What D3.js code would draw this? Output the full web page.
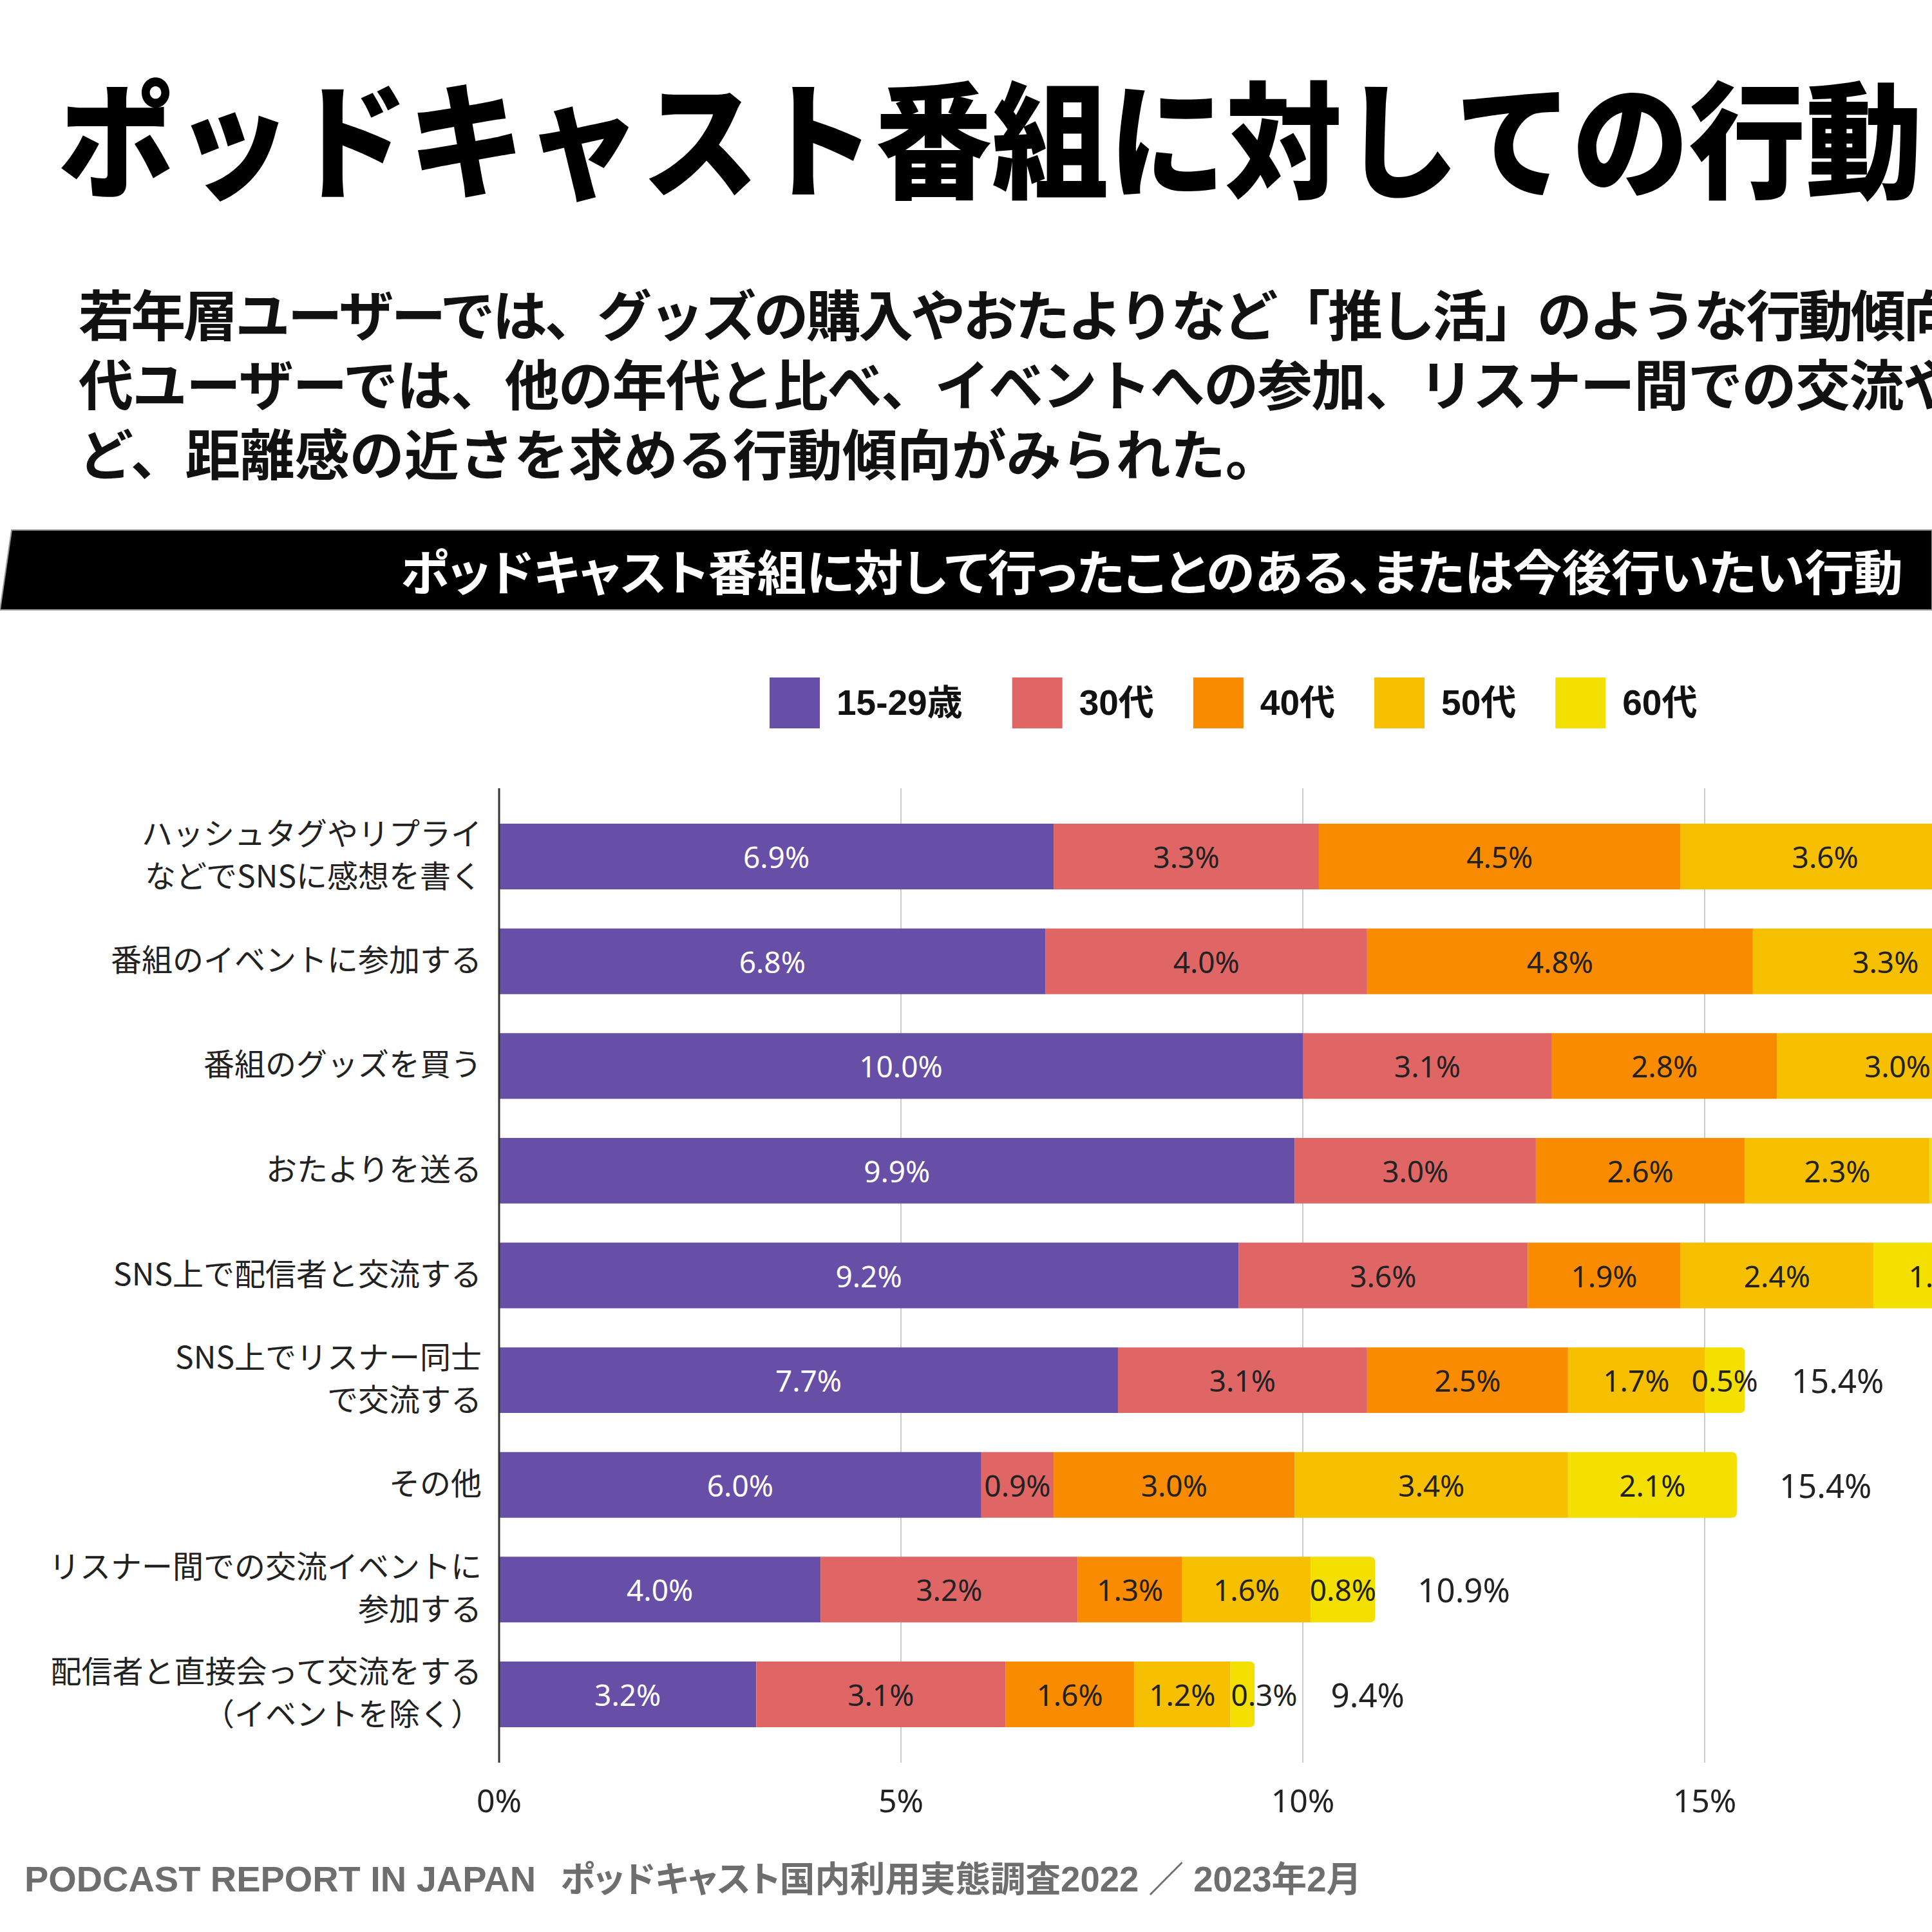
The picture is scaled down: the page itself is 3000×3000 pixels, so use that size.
<!DOCTYPE html>
<html>
<head>
<meta charset="utf-8">
<script src="https://cdn.jsdelivr.net/npm/d3@7/dist/d3.min.js"></script>
<style>
  html, body { margin: 0; padding: 0; background: #fff; }
  svg { display: block; }
  .palt { font-feature-settings: "palt"; }
</style>
</head>
<body>
<script>
// ---------- DATA ----------
const title = "ポッドキャスト番組に対しての行動";
const subtitleLines = [
  "若年層ユーザーでは、グッズの購入やおたよりなど「推し活」のような行動傾向",
  "代ユーザーでは、他の年代と比べ、イベントへの参加、リスナー間での交流や",
  "ど、距離感の近さを求める行動傾向がみられた。"
];
const bannerText = "ポッドキャスト番組に対して行ったことのある、または今後行いたい行動";
const footerLatin = "PODCAST REPORT IN JAPAN";
const footerJa = "ポッドキャスト国内利用実態調査2022 ／ 2023年2月";

const categories = [
  ["ハッシュタグやリプライ", "などでSNSに感想を書く"],
  ["番組のイベントに参加する"],
  ["番組のグッズを買う"],
  ["おたよりを送る"],
  ["SNS上で配信者と交流する"],
  ["SNS上でリスナー同士", "で交流する"],
  ["その他"],
  ["リスナー間での交流イベントに", "参加する"],
  ["配信者と直接会って交流をする", "（イベントを除く）"]
];
const seriesNames = ["15-29歳", "30代", "40代", "50代", "60代"];
const age1529 = [6.9, 6.8, 10.0, 9.9, 9.2, 7.7, 6.0, 4.0, 3.2];
const age30s  = [3.3, 4.0, 3.1, 3.0, 3.6, 3.1, 0.9, 3.2, 3.1];
const age40s  = [4.5, 4.8, 2.8, 2.6, 1.9, 2.5, 3.0, 1.3, 1.6];
const age50s  = [3.6, 3.3, 3.0, 2.3, 2.4, 1.7, 3.4, 1.6, 1.2];
const age60s  = [1.6, 1.3, 1.4, 1.2, 1.7, 0.5, 2.1, 0.8, 0.3];
const totals  = [19.9, 20.2, 20.3, 19.0, 18.8, 15.4, 15.4, 10.9, 9.4];
const xTicks  = [0, 5, 10, 15, 20];
const colors  = ["#674ea7", "#e06666", "#f88b00", "#f6bf00", "#f4e000"];
const labelColors = ["#ffffff", "#222222", "#222222", "#222222", "#222222"];

// ---------- SETUP ----------
const W = 3000, H = 3000;
const cjk = "'Noto Sans CJK JP', sans-serif";
const latin = "'Noto Sans', 'Noto Sans CJK JP', sans-serif";
const arial = "'Liberation Sans', Arial, 'Noto Sans CJK JP', sans-serif";
const seriesValues = [age1529, age30s, age40s, age50s, age60s];

const svg = d3.select("body").append("svg")
  .attr("width", W).attr("height", H)
  .attr("viewBox", `0 0 ${W} ${H}`);
svg.append("rect").attr("width", W).attr("height", H).attr("fill", "#fff");

// Title
svg.append("text")
  .attr("x", 90).attr("y", 206)
  .attr("dominant-baseline", "central")
  .attr("font-family", cjk).attr("font-weight", 900)
  .attr("font-size", 196).attr("fill", "#000")
  .attr("textLength", 2895).attr("lengthAdjust", "spacingAndGlyphs")
  .text(title);

// Subtitle (first two lines justified to the same width)
svg.append("g").selectAll("text").data(subtitleLines).join("text")
  .attr("x", 122).attr("y", (d, i) => 484 + i * 108)
  .attr("dominant-baseline", "central")
  .attr("font-family", cjk).attr("font-weight", 700)
  .attr("font-size", 85).attr("fill", "#111")
  .each(function (d, i) {
    if (i < 2) d3.select(this).attr("textLength", 2918).attr("lengthAdjust", "spacing");
  })
  .text(d => d);

// Banner
svg.append("path")
  .attr("d", "M18,823 L3000,823 L3000,947 L0,947 Z")
  .attr("fill", "#000").attr("stroke", "#999").attr("stroke-width", 2);
svg.append("text")
  .attr("class", "palt")
  .attr("x", 622).attr("y", 884)
  .attr("dominant-baseline", "central")
  .attr("font-family", cjk).attr("font-weight", 700)
  .attr("font-size", 75).attr("fill", "#fff")
  .attr("textLength", 2333).attr("lengthAdjust", "spacingAndGlyphs")
  .text(bannerText);

// Legend
const legendGaps = [77, 61, 61, 61, 0];
const legend = svg.append("g");
let lx = 1195;
seriesNames.forEach((name, i) => {
  legend.append("rect").attr("x", lx).attr("y", 1052)
    .attr("width", 78).attr("height", 79).attr("fill", colors[i]);
  const t = legend.append("text")
    .attr("x", lx + 104).attr("y", 1091)
    .attr("dominant-baseline", "central")
    .attr("font-family", arial).attr("font-weight", 700)
    .attr("font-size", 55).attr("fill", "#111")
    .text(name);
  lx = lx + 104 + t.node().getComputedTextLength() + legendGaps[i];
});

// Scales
const x = d3.scaleLinear().domain([0, 20]).range([775, 775 + 20 * 124.8]);
const y = d3.scaleBand().domain(d3.range(categories.length))
  .range([1224, 2737]).paddingInner(0.373).paddingOuter(0.339);

// Gridlines
svg.append("g").selectAll("line").data(xTicks.filter(t => t > 0)).join("line")
  .attr("x1", d => x(d)).attr("x2", d => x(d))
  .attr("y1", 1224).attr("y2", 2737)
  .attr("stroke", "#cccccc").attr("stroke-width", 2);

// Stacked data
const rows = categories.map((c, i) => {
  const r = { i };
  seriesNames.forEach((s, k) => { r[s] = seriesValues[k][i]; });
  return r;
});
const stack = d3.stack().keys(seriesNames)(rows);
const lastK = stack.length - 1;

// Segment path: the final segment gets slightly rounded right corners
function segPath(d, k) {
  const x0 = x(d[0]), x1 = x(d[1]);
  const y0 = y(d.data.i), y1 = y0 + y.bandwidth();
  const r = k === lastK ? Math.min(8, (x1 - x0) / 2) : 0;
  return `M${x0},${y0} L${x1 - r},${y0} Q${x1},${y0} ${x1},${y0 + r} ` +
         `L${x1},${y1 - r} Q${x1},${y1} ${x1 - r},${y1} L${x0},${y1} Z`;
}

const barsG = svg.append("g");
stack.forEach((layer, k) => {
  barsG.append("g").attr("fill", colors[k]).selectAll("path").data(layer).join("path")
    .attr("d", d => segPath(d, k));
});

// Segment labels (shifted right if they would collide) and totals
const labG = svg.append("g");
categories.forEach((c, i) => {
  let prevRight = -Infinity;
  let lastRight = 0;
  stack.forEach((layer, k) => {
    const d = layer[i];
    const cx = (x(d[0]) + x(d[1])) / 2;
    const t = labG.append("text")
      .attr("y", y(i) + y.bandwidth() / 2)
      .attr("dominant-baseline", "central")
      .attr("font-family", latin).attr("font-size", 46)
      .attr("fill", labelColors[k])
      .text(seriesValues[k][i].toFixed(1) + "%");
    const w = t.node().getComputedTextLength();
    let left = cx - w / 2;
    if (left < prevRight + 24) left = prevRight + 24;
    t.attr("x", left);
    prevRight = left + w;
    lastRight = prevRight;
  });
  const barEnd = x(stack[lastK][i][1]);
  labG.append("text")
    .attr("x", Math.max(barEnd + 66, lastRight + 52))
    .attr("y", y(i) + y.bandwidth() / 2)
    .attr("dominant-baseline", "central")
    .attr("font-family", latin).attr("font-size", 51)
    .attr("fill", "#222")
    .text(totals[i].toFixed(1) + "%");
});

// Axis line
svg.append("line")
  .attr("x1", x(0)).attr("x2", x(0)).attr("y1", 1224).attr("y2", 2737)
  .attr("stroke", "#333").attr("stroke-width", 3);

// Category labels
const catG = svg.append("g");
categories.forEach((lines, i) => {
  const cy = y(i) + y.bandwidth() / 2 - 6;
  const n = lines.length;
  lines.forEach((ln, j) => {
    catG.append("text")
      .attr("x", 748)
      .attr("y", cy + (j - (n - 1) / 2) * 66)
      .attr("text-anchor", "end").attr("dominant-baseline", "central")
      .attr("font-family", cjk).attr("font-size", 48)
      .attr("fill", "#222")
      .text(ln);
  });
});

// X axis tick labels
svg.append("g").selectAll("text").data(xTicks).join("text")
  .attr("x", d => x(d)).attr("y", 2795)
  .attr("text-anchor", "middle").attr("dominant-baseline", "central")
  .attr("font-family", latin).attr("font-size", 50)
  .attr("fill", "#222")
  .text(d => d + "%");

// Footer
svg.append("text")
  .attr("x", 38).attr("y", 2918)
  .attr("dominant-baseline", "central")
  .attr("font-family", arial).attr("font-weight", 700)
  .attr("font-size", 55).attr("fill", "#6e6e6e")
  .attr("textLength", 794).attr("lengthAdjust", "spacingAndGlyphs")
  .text(footerLatin);
svg.append("text")
  .attr("class", "palt")
  .attr("x", 870).attr("y", 2918)
  .attr("dominant-baseline", "central")
  .attr("font-family", arial).attr("font-weight", 700)
  .attr("font-size", 55).attr("fill", "#6e6e6e")
  .attr("textLength", 1244).attr("lengthAdjust", "spacingAndGlyphs")
  .text(footerJa);
</script>
</body>
</html>
